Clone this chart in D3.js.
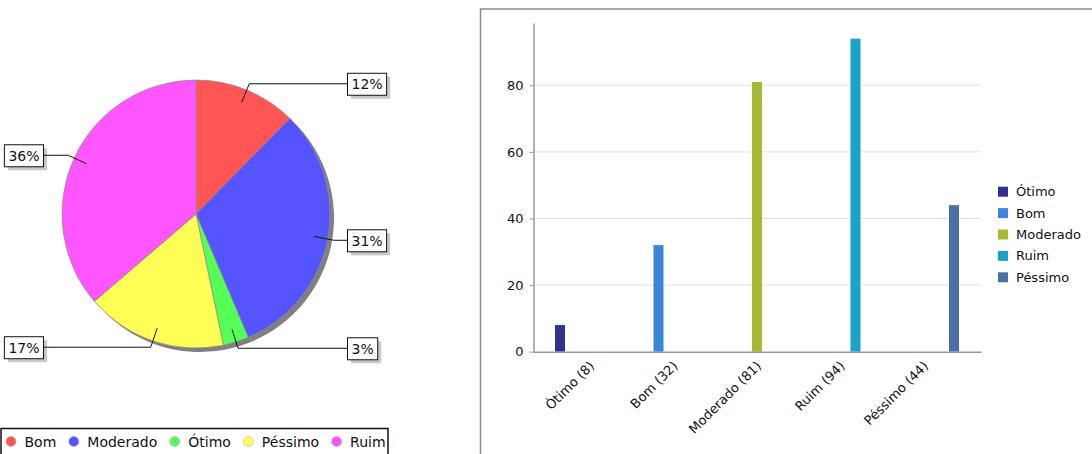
<!DOCTYPE html>
<html><head><meta charset="utf-8">
<script src="https://cdn.jsdelivr.net/npm/d3@7"></script>
<style>
html,body{margin:0;padding:0;background:#fff;}
svg{display:block;font-family:"DejaVu Sans",sans-serif;}
</style></head>
<body><svg id="c" width="1092" height="454"></svg>
<script>
// ---- data ----
const categories = ["Ótimo", "Bom", "Moderado", "Ruim", "Péssimo"];
const counts = [8, 32, 81, 94, 44];
const barColors = ["#2e3192", "#3c86da", "#a8b834", "#1aa3c8", "#4b70a5"];
const pieOrder = ["Bom", "Moderado", "Ótimo", "Péssimo", "Ruim"];
const pieColors = ["#ff5555", "#5555ff", "#55ff55", "#ffff55", "#ff55ff"];
const yTicks = [0, 20, 40, 60, 80];

const svg = d3.select("#c");

// ---- pie ----
const pieData = pieOrder.map((k, i) => ({ name: k, value: counts[categories.indexOf(k)], color: pieColors[i] }));
const total = d3.sum(pieData, d => d.value);
const cx = 196, cy = 214, R = 134;
const pie = d3.pie().sort(null).value(d => d.value);
const arcs = pie(pieData);
const arc = d3.arc().innerRadius(0).outerRadius(R);
const gp = svg.append("g");
// shadow
gp.append("g").attr("transform", `translate(${cx + 4},${cy + 4})`)
  .selectAll("path").data(arcs).join("path").attr("d", arc).attr("fill", "#808080");
gp.append("g").attr("transform", `translate(${cx},${cy})`)
  .selectAll("path").data(arcs).join("path").attr("d", arc)
  .attr("fill", d => d.data.color).attr("stroke", "#8c8c8c").attr("stroke-width", 0.7);

const fmt = d3.format(".0%");
const lab = gp.append("g");
arcs.forEach(a => {
  const m = (a.startAngle + a.endAngle) / 2;
  const s = Math.sin(m), c = -Math.cos(m);
  const p1 = [cx + 0.9 * R * s, cy + 0.9 * R * c];
  const p2 = [cx + 1.05 * R * s, cy + 1.05 * R * c];
  const right = s > 0;
  const xEnd = right ? cx + 151 : cx - 153;
  lab.append("path").attr("d", `M${p1}L${p2}L${xEnd},${p2[1]}`)
    .attr("fill", "none").attr("stroke", "#111").attr("stroke-width", 1);
  const t = lab.append("text").text(fmt(a.data.value / total))
    .attr("font-size", 14).attr("fill", "#111");
  const w = t.node().getComputedTextLength() + 8;
  const bx = right ? xEnd : xEnd - w;
  const by = p2[1] - 11;
  lab.insert("rect", "text").attr("x", bx + 4).attr("y", by + 4).attr("width", w).attr("height", 22).attr("fill", "#c8c8c8");
  lab.insert("rect", "text").attr("x", bx + 0.5).attr("y", by + 0.5).attr("width", w).attr("height", 22)
    .attr("fill", "#fff").attr("stroke", "#111").attr("stroke-width", 1);
  t.attr("x", bx + 4.5).attr("y", p2[1] + 5.5);
});

// pie legend
const lg = svg.append("g");
lg.append("rect").attr("x", 1).attr("y", 428.5).attr("width", 387).attr("height", 40)
  .attr("fill", "#fff").attr("stroke", "#111").attr("stroke-width", 1.5);
let lx = 11;
pieData.forEach(d => {
  lg.append("circle").attr("cx", lx).attr("cy", 441.5).attr("r", 5)
    .attr("fill", d.color).attr("stroke", "#aaa").attr("stroke-width", 0.5);
  const t = lg.append("text").attr("x", lx + 13.5).attr("y", 447).attr("font-size", 14).attr("fill", "#111").text(d.name);
  lx = lx + 13.5 + t.node().getComputedTextLength() + 17.5;
});

// ---- bar chart ----
svg.append("rect").attr("x", 480.5).attr("y", 9).attr("width", 700).attr("height", 500)
  .attr("fill", "#fff").attr("stroke", "#8a8a8a").attr("stroke-width", 1.5);

const x0 = d3.scaleBand().domain(categories).range([533, 981]).paddingInner(0.1617).paddingOuter(0.2635);
const x1 = d3.scaleBand().domain(categories).range([0, x0.bandwidth()]).paddingInner(1 / 3).paddingOuter(0);
const y = d3.scaleLinear().domain([0, d3.max(counts) * 1.05]).range([351.7, 23]);

const gb = svg.append("g");
gb.selectAll("line.grid").data(yTicks.slice(1)).join("line").attr("class", "grid")
  .attr("x1", 533).attr("x2", 981).attr("y1", d => y(d)).attr("y2", d => y(d))
  .attr("stroke", "#e0e0e0").attr("stroke-width", 1);

gb.selectAll("rect.bar").data(categories).join("rect").attr("class", "bar")
  .attr("x", c => x0(c) + x1(c)).attr("width", x1.bandwidth())
  .attr("y", (c, i) => y(counts[i])).attr("height", (c, i) => y(0) - y(counts[i]))
  .attr("fill", (c, i) => barColors[i]);

const yAxis = gb.append("g").attr("transform", "translate(533.5,0)")
  .call(d3.axisLeft(y).tickValues(yTicks).tickSize(4).tickPadding(6).tickSizeOuter(0));
yAxis.select(".domain").attr("stroke", "#999").attr("stroke-width", 1.5);
yAxis.selectAll(".tick line").attr("stroke", "#999");
yAxis.selectAll(".tick text").attr("font-size", 13).attr("fill", "#111").attr("font-family", "DejaVu Sans");

const xAxis = gb.append("g").attr("transform", `translate(0,${y(0)})`)
  .call(d3.axisBottom(x0).tickSize(0).tickSizeOuter(0).tickFormat((c, i) => `${c} (${counts[i]})`));
xAxis.select(".domain").attr("stroke", "#999").attr("stroke-width", 1.5);
xAxis.selectAll(".tick text").attr("font-size", 13).attr("fill", "#111").attr("font-family", "DejaVu Sans")
  .attr("text-anchor", "end").attr("dy", null).attr("y", 0)
  .attr("transform", "translate(5,15) rotate(-45)");

// bar legend
const bl = svg.append("g");
categories.forEach((c, i) => {
  const yy = 191.7 + 21.4 * i;
  bl.append("rect").attr("x", 998).attr("y", yy - 5).attr("width", 10).attr("height", 10).attr("fill", barColors[i]);
  bl.append("text").attr("x", 1016).attr("y", yy + 4.5).attr("font-size", 13).attr("fill", "#111").text(c);
});
</script></body></html>
